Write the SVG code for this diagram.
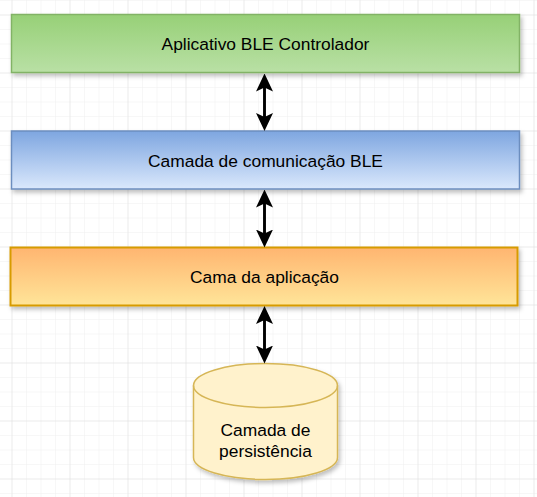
<svg xmlns="http://www.w3.org/2000/svg" width="537" height="497" viewBox="0 0 537 497">
  <style>
    .lbl { font-family: "Liberation Sans", Arial, sans-serif; font-size: 17.4px; fill: #000000; text-anchor: middle; }
    .conn { fill: none; stroke: #000000; stroke-width: 2.9; }
  </style>
  <defs>
    <pattern id="gridMinor" width="14.5" height="14.5" patternUnits="userSpaceOnUse" x="11.5" y="14.5">
      <path d="M0,0 H14.5 M0,0 V14.5" fill="none" stroke="#f0f0f0" stroke-width="1"/>
    </pattern>
    <pattern id="gridMajor" width="58" height="58" patternUnits="userSpaceOnUse" x="11.5" y="14.5">
      <path d="M0,0 H58 M0,0 V58" fill="none" stroke="#e2e2e2" stroke-width="1"/>
    </pattern>
    <linearGradient id="gGreen" x1="0" y1="0" x2="0" y2="1">
      <stop offset="0" stop-color="#97d077"/>
      <stop offset="1" stop-color="#b9e0a5"/>
    </linearGradient>
    <linearGradient id="gBlue" x1="0" y1="0" x2="0" y2="1">
      <stop offset="0" stop-color="#7ea6e0"/>
      <stop offset="1" stop-color="#dae8fc"/>
    </linearGradient>
    <linearGradient id="gOrange" x1="0" y1="0" x2="0" y2="1">
      <stop offset="0" stop-color="#ffb570"/>
      <stop offset="1" stop-color="#ffe599"/>
    </linearGradient>
    <filter id="shadow" x="-5%" y="-20%" width="110%" height="150%">
      <feDropShadow dx="2" dy="3" stdDeviation="2" flood-color="#000000" flood-opacity="0.25"/>
    </filter>
    <marker id="arrow" viewBox="0 0 18 18" markerUnits="userSpaceOnUse" markerWidth="18" markerHeight="18" refX="10" refY="9" orient="auto-start-reverse">
      <path d="M0,0.5 L18,9 L0,17.5 L4,9 Z" fill="#000000"/>
    </marker>
  </defs>

  <rect x="0" y="0" width="537" height="497" fill="#ffffff"/>
  <rect x="0" y="0" width="537" height="497" fill="url(#gridMinor)"/>
  <rect x="0" y="0" width="537" height="497" fill="url(#gridMajor)"/>

  <g id="node-app">
    <rect x="11.5" y="14.5" width="508" height="58" fill="url(#gGreen)" stroke="#82b366" stroke-width="1.5" filter="url(#shadow)"/>
    <text class="lbl" x="265.5" y="50">Aplicativo BLE Controlador</text>
  </g>

  <g id="node-ble">
    <rect x="11.5" y="131" width="508" height="58" fill="url(#gBlue)" stroke="#6c8ebf" stroke-width="1.5" filter="url(#shadow)"/>
    <text class="lbl" x="265.5" y="166.5">Camada de comunicação BLE</text>
  </g>

  <g id="node-aplicacao">
    <rect x="10.5" y="247.5" width="507" height="58" fill="url(#gOrange)" stroke="#d79b00" stroke-width="2" filter="url(#shadow)"/>
    <text class="lbl" x="264.5" y="282.5">Cama da aplicação</text>
  </g>

  <g id="node-persistencia">
    <path d="M193.5,385.5 A72,22 0 0 1 337.5,385.5 V457.5 A72,22 0 0 1 193.5,457.5 Z" fill="#fff2cc" stroke="#d6b656" stroke-width="1.5" filter="url(#shadow)"/>
    <path d="M193.5,385.5 A72,22 0 0 0 337.5,385.5" fill="none" stroke="#d6b656" stroke-width="1.5"/>
    <text class="lbl" x="265.5" y="436">Camada de</text>
    <text class="lbl" x="265.5" y="456.5">persistência</text>
  </g>

  <g id="connectors">
    <path class="conn" d="M264.5,81.5 V123" marker-start="url(#arrow)" marker-end="url(#arrow)"/>
    <path class="conn" d="M264.5,197.5 V239.5" marker-start="url(#arrow)" marker-end="url(#arrow)"/>
    <path class="conn" d="M264.5,314 V355.5" marker-start="url(#arrow)" marker-end="url(#arrow)"/>
  </g>
</svg>
